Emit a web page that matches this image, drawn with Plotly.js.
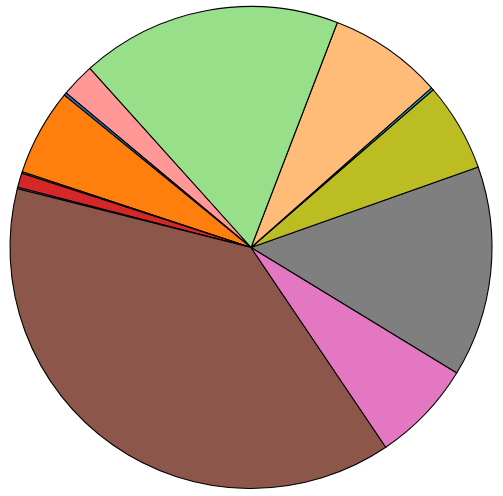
<!DOCTYPE html>
<html>
<head>
<meta charset="utf-8">
<script src="https://cdn.plot.ly/plotly-3.0.1.min.js"></script>
<style>
  html, body { margin: 0; padding: 0; background: #fff; }
  #plot { width: 503px; height: 496px; }
</style>
</head>
<body>
<div id="plot"></div>
<script>
//Slice names, shares (percent) and colours, going counterclockwise from the grey slice
var labels = ["Gray", "Olive", "Cyan", "Light orange", "Light green", "Light red",
    "Blue", "Orange", "Green", "Red", "Purple", "Brown", "Pink"];
var shares = [14.14, 5.94, 0.17, 7.64, 17.5, 2.25, 0.19, 5.81, 0.1, 0.96, 0.1, 38.37, 6.83];
var colors = ["#7f7f7f", "#bcbd22", "#17becf", "#ffbb78", "#98df8a", "#ff9896",
    "#1f77b4", "#ff7f0e", "#2ca02c", "#d62728", "#9467bd", "#8c564b", "#e377c2"];

//Builds the pie with black slice edges and no text
function initializePlot() {
    var data = {
        type: 'pie',
        labels: labels,
        values: shares,
        sort: false,
        direction: 'counterclockwise',
        //plotly puts the end of the first slice here when going counterclockwise
        rotation: 70.5,
        textinfo: 'none',
        hoverinfo: 'label+percent',
        marker: {
            colors: colors,
            line: { color: '#000', width: 1.1 }
        }
    };

    var layout = {
        width: 503,
        height: 496,
        showlegend: false,
        paper_bgcolor: '#fff',
        margin: { l: 10, r: 11, t: 6, b: 7 }
    };

    Plotly.newPlot('plot', [data], layout, { displayModeBar: false, staticPlot: true });
}

document.addEventListener("DOMContentLoaded", function() {
    initializePlot();
});
</script>
</body>
</html>
